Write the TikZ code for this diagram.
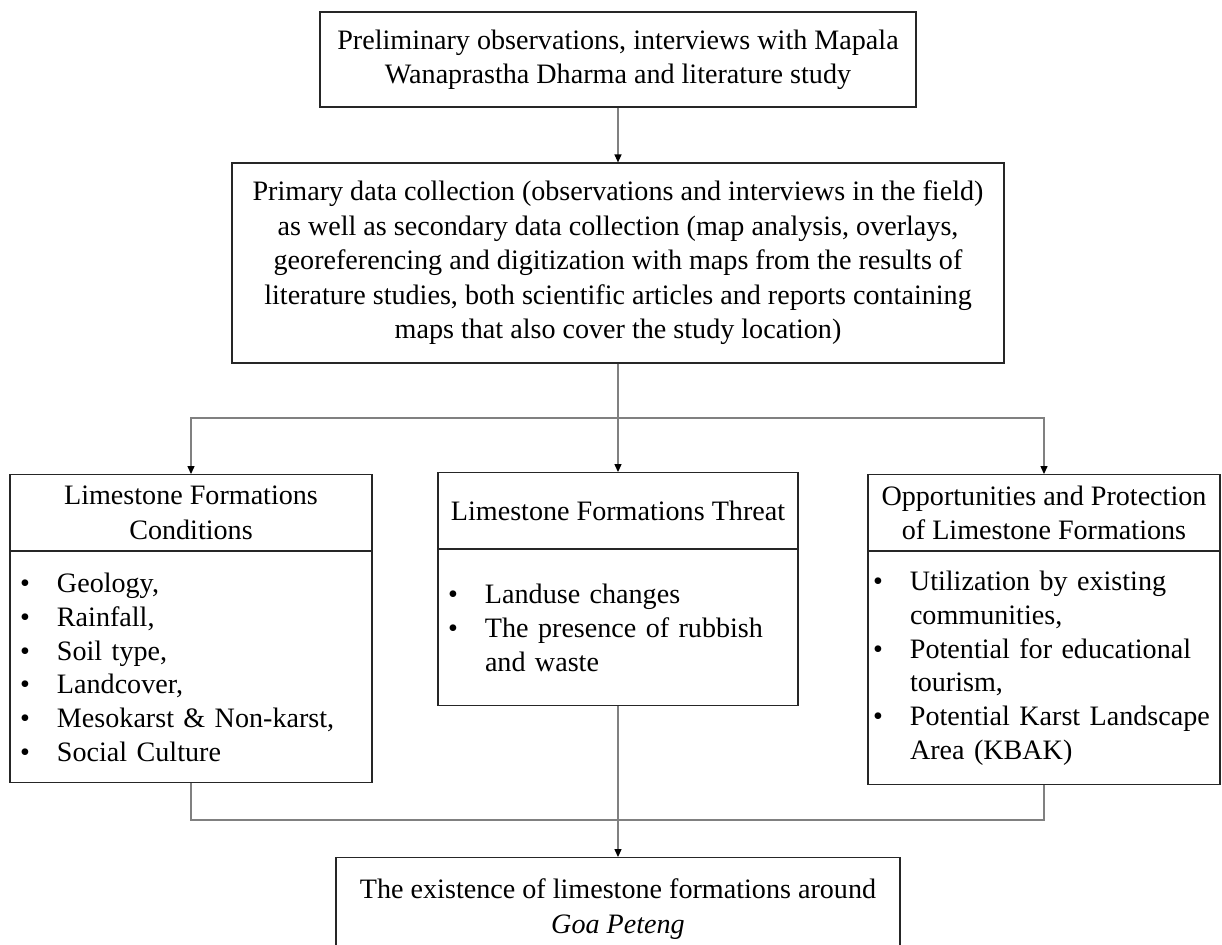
\documentclass[tikz,border=0pt]{standalone}
\usepackage{fontspec}
\setmainfont{Liberation Serif}
\usetikzlibrary{arrows.meta,positioning,calc}
\newcommand{\bul}{\makebox[0.74cm][l]{\textbullet}}
\newcommand{\cont}{\hspace*{0.74cm}}
\tikzset{
  box/.style={draw=black!85, line width=0.7pt, align=center, inner sep=0pt, font=\fontsize{16}{19.6}\selectfont},
  headbox/.style={box, anchor=north, minimum height=15.2mm},
  listbox/.style={draw=black!85, line width=0.7pt, align=left, anchor=north, inner ysep=0pt, inner xsep=2mm, font=\fontsize{16}{19.2}\selectfont},
  link/.style={draw=black!50, line width=0.6pt},
  arrow/.style={link, -{Triangle[length=4.5pt,width=4pt,color=black]}}
}
\begin{document}
\begin{tikzpicture}
\path[use as bounding box] (0,0) rectangle (24.44,-18.90);
\clip (0,0) rectangle (24.44,-18.90);
\node[box, minimum width=119.2mm, minimum height=19mm] (prep) at (12.36,-1.19) {Preliminary observations, interviews with Mapala\\Wanaprastha Dharma and literature study};
\node[box, minimum width=154.4mm, minimum height=40mm] (collect) at (12.36,-5.26) {Primary data collection (observations and interviews in the field)\\as well as secondary data collection (map analysis, overlays,\\georeferencing and digitization with maps from the results of\\literature studies, both scientific articles and reports containing\\maps that also cover the study location)};
% three branches
\node[headbox, minimum width=72.4mm] (condhead) at (3.82,-9.48) {Limestone Formations\\Conditions};
\node[listbox, text width=68.4mm, minimum height=46.2mm, below=0pt of condhead] (condbody) {\bul Geology,\\\bul Rainfall,\\\bul Soil type,\\\bul Landcover,\\\bul Mesokarst \& Non-karst,\\\bul Social Culture};
\node[headbox, minimum width=72mm] (threathead) at (12.36,-9.44) {Limestone Formations Threat};
\node[listbox, text width=68mm, minimum height=31.2mm, below=0pt of threathead] (threatbody) {\bul Landuse changes\\\bul The presence of rubbish\\\cont and waste};
\node[headbox, minimum width=70.4mm] (opphead) at (20.88,-9.48) {Opportunities and Protection\\of Limestone Formations};
\node[listbox, inner xsep=1mm, text width=68.4mm, minimum height=46.6mm, below=0pt of opphead] (oppbody) {\bul Utilization by existing\\\cont communities,\\\bul Potential for educational\\\cont tourism,\\\bul Potential Karst Landscape\\\cont Area (KBAK)};
\node[headbox, minimum width=112.8mm, minimum height=20.6mm] (result) at (12.36,-17.14) {The existence of limestone formations around\\\textit{Goa Peteng}};
\coordinate (split) at (12.36,-8.36);
\coordinate (merge) at (12.36,-16.40);
\draw[arrow] (prep) -- (collect);
\draw[link] (collect) -- (split);
\draw[arrow] (split) -| (condhead.north);
\draw[arrow] (split) -- (threathead);
\draw[arrow] (split) -| (opphead.north);
\draw[link] (condbody) |- (merge);
\draw[link] (oppbody) |- (merge);
\draw[arrow] (threatbody) -- (result);
\end{tikzpicture}
\end{document}
